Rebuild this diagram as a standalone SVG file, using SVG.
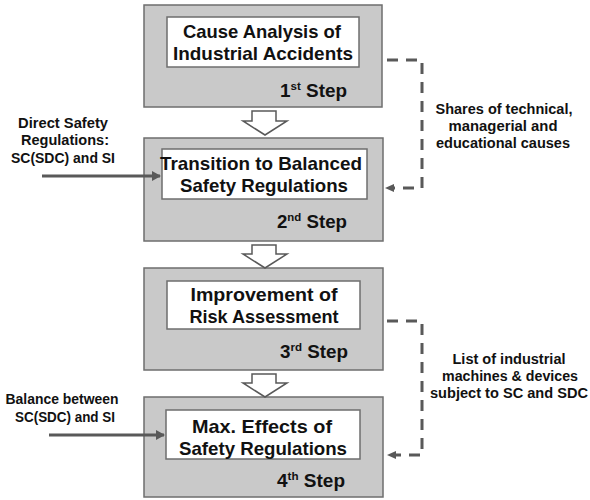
<svg xmlns="http://www.w3.org/2000/svg" width="590" height="500" viewBox="0 0 590 500">
<defs>
<marker id="ah" markerWidth="10" markerHeight="10" refX="8" refY="5" orient="auto" markerUnits="userSpaceOnUse">
<path d="M0,0 L9,5 L0,10 Z" fill="#595959"/>
</marker>
<style>
.step{fill:#c9c9c9;stroke:#6e6e6e;stroke-width:1.5}
.inner{fill:#ffffff;stroke:#6e6e6e;stroke-width:1.5}
.blk{fill:#ffffff;stroke:#595959;stroke-width:1.5;stroke-linejoin:miter}
.t{font-family:"Liberation Sans",Arial,sans-serif;font-weight:700;fill:#111;text-anchor:middle}
.title{font-size:18.5px}
.lab{font-size:14.5px}
.stp{font-size:18px;text-anchor:start}
.sup{font-size:11px}
.solid{stroke:#595959;stroke-width:3;fill:none}
.dash{stroke:#595959;stroke-width:3;fill:none;stroke-dasharray:11,8}
</style>
</defs>
<rect width="590" height="500" fill="#ffffff"/>

<g id="step1">
<rect class="step" x="144" y="5" width="238" height="102"/>
<rect class="inner" x="167" y="17" width="192" height="50"/>
<text class="t title" x="262" y="38" textLength="158" lengthAdjust="spacingAndGlyphs">Cause Analysis of</text>
<text class="t title" x="263" y="60" textLength="180" lengthAdjust="spacingAndGlyphs">Industrial Accidents</text>
<text class="t stp" x="280" y="97" textLength="67" lengthAdjust="spacingAndGlyphs">1<tspan class="sup" dy="-7">st</tspan><tspan dy="7"> Step</tspan></text>
</g>

<g id="step2">
<rect class="step" x="144" y="138" width="239" height="103"/>
<rect class="inner" x="162" y="149" width="205" height="50"/>
<text class="t title" x="261" y="170" textLength="202" lengthAdjust="spacingAndGlyphs">Transition to Balanced</text>
<text class="t title" x="264" y="192" textLength="168" lengthAdjust="spacingAndGlyphs">Safety Regulations</text>
<text class="t stp" x="277" y="228" textLength="70" lengthAdjust="spacingAndGlyphs">2<tspan class="sup" dy="-7">nd</tspan><tspan dy="7"> Step</tspan></text>
</g>

<g id="step3">
<rect class="step" x="144" y="268" width="239" height="102"/>
<rect class="inner" x="167" y="281" width="193" height="48"/>
<text class="t title" x="264" y="301" textLength="147" lengthAdjust="spacingAndGlyphs">Improvement of</text>
<text class="t title" x="264" y="323" textLength="149" lengthAdjust="spacingAndGlyphs">Risk Assessment</text>
<text class="t stp" x="280" y="358" textLength="68" lengthAdjust="spacingAndGlyphs">3<tspan class="sup" dy="-7">rd</tspan><tspan dy="7"> Step</tspan></text>
</g>

<g id="step4">
<rect class="step" x="144" y="397" width="239" height="100"/>
<rect class="inner" x="166" y="410" width="194" height="49"/>
<text class="t title" x="262" y="433" textLength="140" lengthAdjust="spacingAndGlyphs">Max. Effects of</text>
<text class="t title" x="263" y="455" textLength="168" lengthAdjust="spacingAndGlyphs">Safety Regulations</text>
<text class="t stp" x="277" y="487" textLength="68" lengthAdjust="spacingAndGlyphs">4<tspan class="sup" dy="-7">th</tspan><tspan dy="7"> Step</tspan></text>
</g>

<g id="label-direct">
<text class="t lab" x="63" y="128" textLength="90" lengthAdjust="spacingAndGlyphs">Direct Safety</text>
<text class="t lab" x="65" y="145" textLength="88" lengthAdjust="spacingAndGlyphs">Regulations:</text>
<text class="t lab" x="63" y="163" textLength="104" lengthAdjust="spacingAndGlyphs">SC(SDC) and SI</text>
</g>
<g id="label-balance">
<text class="t lab" x="62" y="404" textLength="113" lengthAdjust="spacingAndGlyphs">Balance between</text>
<text class="t lab" x="65" y="422" textLength="100" lengthAdjust="spacingAndGlyphs">SC(SDC) and SI</text>
</g>
<g id="label-shares">
<text class="t lab" x="504" y="114" textLength="137" lengthAdjust="spacingAndGlyphs">Shares of technical,</text>
<text class="t lab" x="503" y="131" textLength="109" lengthAdjust="spacingAndGlyphs">managerial and</text>
<text class="t lab" x="503" y="148" textLength="134" lengthAdjust="spacingAndGlyphs">educational causes</text>
</g>
<g id="label-list">
<text class="t lab" x="509" y="364" textLength="113" lengthAdjust="spacingAndGlyphs">List of industrial</text>
<text class="t lab" x="510" y="381" textLength="136" lengthAdjust="spacingAndGlyphs">machines &amp; devices</text>
<text class="t lab" x="509" y="398" textLength="158" lengthAdjust="spacingAndGlyphs">subject to SC and SDC</text>
</g>

<g id="connectors">
<path class="blk" d="M252,111 H276 V121 H287 L265,135 L243,121 H252 Z"/>
<path class="blk" d="M252,245 H276 V254 H287 L265,268 L243,254 H252 Z"/>
<path class="blk" d="M252,374 H276 V383 H287 L265,397 L243,383 H252 Z"/>
<line class="solid" x1="42" y1="176" x2="160" y2="176" marker-end="url(#ah)"/>
<line class="solid" x1="49" y1="435" x2="164" y2="435" marker-end="url(#ah)"/>
<path class="dash" d="M387,60 H422 V188 H394"/>
<path d="M385,188 L394,184 L394,192 Z" fill="#595959"/>
<path class="dash" d="M387,321 H422 V455 H396"/>
<path d="M387,455 L396,451 L396,459 Z" fill="#595959"/>
</g>
</svg>
